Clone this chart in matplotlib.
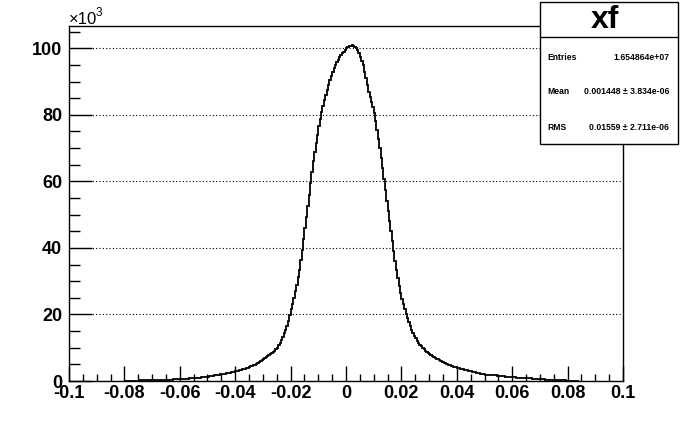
import numpy as np
import matplotlib
matplotlib.use('Agg')
import matplotlib.pyplot as plt
from matplotlib.patches import Rectangle
from matplotlib.ticker import MultipleLocator, FixedLocator

plt.rcParams['font.family'] = ['Liberation Sans', 'DejaVu Sans']
plt.rcParams['font.weight'] = 'bold'

# histogram "xf": bin width 0.0005 starting at -0.08, contents in units of 10^3
bin_lo = -0.080
bin_width = 0.0005
counts_left = [
    0, 0, 0, 0.02, 0.04, 0.07, 0.09, 0.1, 0.11, 0.13,
    0.14, 0.16, 0.17, 0.18, 0.19, 0.21, 0.22, 0.23, 0.24, 0.25,
    0.26, 0.27, 0.28, 0.29, 0.3, 0.31, 0.32, 0.34, 0.35, 0.36,
    0.38, 0.39, 0.41, 0.42, 0.44, 0.46, 0.48, 0.5, 0.52, 0.55,
    0.57, 0.6, 0.62, 0.65, 0.67, 0.7, 0.73, 0.77, 0.8, 0.84,
    0.87, 0.91, 0.95, 1.0, 1.04, 1.08, 1.13, 1.18, 1.23, 1.28,
    1.34, 1.4, 1.46, 1.53, 1.6, 1.67, 1.75, 1.83, 1.9, 1.97,
    2.05, 2.12, 2.2, 2.27, 2.35, 2.42, 2.5, 2.6, 2.7, 2.8,
    2.9, 3.0, 3.1, 3.22, 3.35, 3.47, 3.6, 3.75, 3.9, 4.05,
    4.2, 4.37, 4.55, 4.75, 4.95, 5.17, 5.4, 5.65, 5.9, 6.2,
    6.5, 6.8, 7.1, 7.4, 7.7, 8.0, 8.3, 8.65, 9.0, 9.5,
    10.0, 10.7, 11.5, 12.4, 13.3, 14.3, 15.3, 16.6, 18.0, 19.7,
    21.5, 23.2, 25.0, 27.0, 29.0, 31.2, 33.5, 36.5, 39.5, 42.7,
    46.0, 49.2, 52.5, 56.0, 59.5, 62.8, 66.0, 68.8, 71.5, 74.0,
    76.5, 78.8, 81.0, 82.8, 84.5, 86.0, 87.5, 89.0, 90.5, 91.8,
    93.0, 94.0, 95.0, 95.8, 96.5, 97.3, 98.0, 98.5, 99.0, 99.6,
]
counts_right = [
    100.0, 100.3, 100.6, 100.8, 101.0, 100.7, 100.5, 100.0, 99.5, 98.5,
    97.5, 96.3, 95.0, 93.0, 91.0, 89.0, 87.0, 85.5, 84.0, 82.3,
    80.5, 78.0, 75.5, 72.8, 70.0, 67.0, 64.0, 60.8, 57.5, 54.2,
    51.0, 48.0, 45.0, 42.0, 39.0, 36.2, 33.5, 31.0, 28.5, 26.5,
    24.5, 23.0, 21.5, 20.2, 19.0, 17.7, 16.5, 15.4, 14.3, 13.5,
    12.8, 12.1, 11.5, 10.9, 10.4, 9.9, 9.5, 9.1, 8.8, 8.5,
    8.2, 7.9, 7.6, 7.3, 7.0, 6.75, 6.5, 6.25, 6.0, 5.8,
    5.6, 5.4, 5.2, 5.02, 4.85, 4.67, 4.5, 4.35, 4.2, 4.07,
    3.95, 3.82, 3.7, 3.6, 3.5, 3.4, 3.3, 3.2, 3.1, 3.0,
    2.9, 2.82, 2.75, 2.65, 2.55, 2.45, 2.35, 2.25, 2.15, 2.05,
    1.95, 1.9, 1.85, 1.82, 1.8, 1.77, 1.75, 1.72, 1.7, 1.65,
    1.6, 1.55, 1.5, 1.45, 1.4, 1.35, 1.3, 1.25, 1.2, 1.17,
    1.15, 1.12, 1.1, 1.05, 1.0, 0.97, 0.95, 0.92, 0.9, 0.87,
    0.85, 0.82, 0.8, 0.77, 0.75, 0.72, 0.7, 0.65, 0.6, 0.57,
    0.55, 0.52, 0.5, 0.47, 0.45, 0.42, 0.4, 0.37, 0.35, 0.32,
    0.3, 0.28, 0.27, 0.25, 0.23, 0.21, 0.2, 0.18, 0.17, 0.15,
    0.14, 0.12, 0.11, 0.09, 0.08, 0.06, 0.05, 0.03,
]
x_ticks = [-0.1, -0.08, -0.06, -0.04, -0.02, 0, 0.02, 0.04, 0.06, 0.08, 0.1]
x_tick_labels = ['-0.1', '-0.08', '-0.06', '-0.04', '-0.02', '0',
                 '0.02', '0.04', '0.06', '0.08', '0.1']
y_ticks = [0, 20, 40, 60, 80, 100]
stats_names = ['Entries', 'Mean', 'RMS']
stats_values = ['1.654864e+07', '0.001448 \u00b1 3.834e-06', '0.01559 \u00b1 2.711e-06']
hist_title = 'xf'

counts = np.array(counts_left + counts_right)
edges = bin_lo + bin_width * np.arange(len(counts) + 1)

W, H = 692, 444
fig = plt.figure(figsize=(W / 100, H / 100), dpi=100)
ax = fig.add_axes([69 / W, 1 - 381 / H, (623 - 69) / W, (381 - 26) / H])

ax.stairs(counts, edges, color='black', lw=1.3, baseline=0)

ax.set_xlim(-0.1, 0.1)
ax.set_ylim(0, 106.7)

ax.xaxis.set_major_locator(FixedLocator(x_ticks))
ax.set_xticklabels(x_tick_labels)
ax.xaxis.set_minor_locator(MultipleLocator(0.005))
ax.yaxis.set_major_locator(FixedLocator(y_ticks))
ax.yaxis.set_minor_locator(MultipleLocator(5))

ax.tick_params(axis='x', which='major', direction='in', length=10.5, width=1,
               labelsize=13, pad=3, top=False)
ax.tick_params(axis='x', which='minor', direction='in', length=5, width=1, top=False)
ax.tick_params(axis='y', which='major', direction='in', length=16.5, width=1,
               labelsize=13, pad=5, right=False)
ax.tick_params(axis='y', which='minor', direction='in', length=8, width=1, right=False)
for lab in ax.get_xticklabels() + ax.get_yticklabels():
    lab.set_fontweight('bold')

ax.yaxis.grid(True, which='major', color='black', linestyle=(0, (1, 2)), lw=0.8)
ax.set_axisbelow(True)
for sp in ax.spines.values():
    sp.set_linewidth(1)

# exponent label
fig.text(69 / W, 1 - 23.5 / H, '\u00d710', fontsize=12, fontweight='normal',
         ha='left', va='baseline')
fig.text(96 / W, 1 - 15.5 / H, '3', fontsize=8.5, fontweight='normal',
         ha='left', va='baseline')

# stats box
bx0, bx1, by0, by1, bsep = 540, 678, 144, 2, 37
fig.add_artist(Rectangle((bx0 / W, 1 - by0 / H), (bx1 - bx0) / W, (by0 - by1) / H,
                         transform=fig.transFigure, facecolor='white',
                         edgecolor='black', lw=1, zorder=5))
fig.add_artist(plt.Line2D([bx0 / W, bx1 / W], [1 - bsep / H, 1 - bsep / H],
                          transform=fig.transFigure, color='black', lw=1, zorder=6))
fig.text(605 / W, 1 - 20 / H, hist_title, fontsize=23, fontweight='bold',
         ha='center', va='center', zorder=7)
for i, (nm, val) in enumerate(zip(stats_names, stats_values)):
    yy = 1 - (57 + 35 * i) / H
    fig.text((bx0 + 7) / W, yy, nm, fontsize=6.2, fontweight='bold', ha='left',
             va='center', zorder=7)
    fig.text((bx1 - 9) / W, yy, val, fontsize=6.2, fontweight='bold', ha='right',
             va='center', zorder=7)

fig.savefig('out.png', dpi=100)
